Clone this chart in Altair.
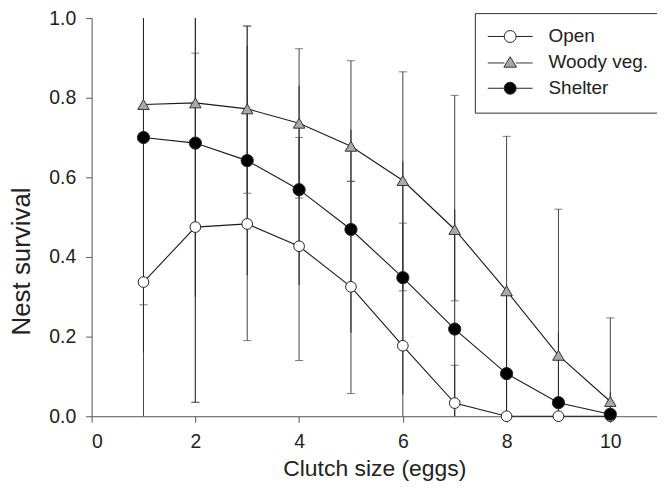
import altair as alt
import pandas as pd

# ---- data ----
clutch = [1, 2, 3, 4, 5, 6, 7, 8, 9, 10]
series_names = ["Open", "Woody veg.", "Shelter"]

open_surv = [0.337, 0.475, 0.483, 0.427, 0.325, 0.177, 0.033, 0.0, 0.0, 0.0]
woody_surv = [0.783, 0.787, 0.772, 0.736, 0.678, 0.592, 0.469, 0.315, 0.153, 0.037]
shelter_surv = [0.700, 0.686, 0.642, 0.569, 0.469, 0.348, 0.219, 0.107, 0.034, 0.005]

open_lo = [0.0, 0.035, 0.19, 0.14, 0.057, 0.0, 0.0, 0.0, 0.0, 0.0]
open_hi = [1.0, 0.912, 0.98, 0.70, 0.59, 0.485, 0.128, 0.0, 0.0, 0.0]
woody_lo = [0.28, 0.035, 0.56, 0.548, 0.59, 0.315, 0.29, 0.0, 0.0, 0.0]
woody_hi = [1.0, 1.0, 0.98, 0.923, 0.893, 0.865, 0.806, 0.703, 0.52, 0.247]
shelter_lo = [0.16, 0.30, 0.354, 0.33, 0.21, 0.055, 0.0, 0.0, 0.0, 0.0]
shelter_hi = [1.0, 1.0, 0.93, 0.83, 0.72, 0.64, 0.52, 0.33, 0.21, 0.06]

x_ticks = [0, 2, 4, 6, 8, 10]
y_ticks = [0.0, 0.2, 0.4, 0.6, 0.8, 1.0]

fills = ["white", "#a9a9a9", "black"]
strokes = ["#222222", "#333333", "#222222"]
shapes = ["circle", "triangle-up", "circle"]
sizes = [115, 150, 125]

rows = []
caps = []
for name, surv, lo, hi, capped in [
    ("Open", open_surv, open_lo, open_hi, True),
    ("Woody veg.", woody_surv, woody_lo, woody_hi, True),
    ("Shelter", shelter_surv, shelter_lo, shelter_hi, False),
]:
    for c, s, l, h in zip(clutch, surv, lo, hi):
        rows.append(dict(Clutch=c, Series=name, Survival=s, Lower=l, Upper=h,
                         Capped=capped))
        if capped:
            for v in (l, h):
                if 0 < v < 1:
                    caps.append(dict(Clutch=c, Series=name, Bound=v))

df = pd.DataFrame(rows)
caps_df = pd.DataFrame(caps)

FONT = "Liberation Sans"

xscale = alt.Scale(domain=[0, 10.9], nice=False, zero=False)
yscale = alt.Scale(domain=[0, 1], nice=False)

X = alt.X("Clutch:Q", scale=xscale,
          axis=alt.Axis(values=x_ticks, format="d", title="Clutch size (eggs)",
                        titleFontSize=23, labelPadding=10, titlePadding=7))
Y = alt.Y("Survival:Q", scale=yscale,
          axis=alt.Axis(values=y_ticks, format=".1f", title="Nest survival",
                        titleFontSize=26, titleX=-70, titleY=244,
                        titleBaseline="middle", titleAlign="center", titleAngle=270,
                        labelPadding=10))

bars_capped = alt.Chart(df).transform_filter("datum.Capped").mark_rule(
    color="#444444", strokeWidth=1
).encode(
    x=alt.X("Clutch:Q", scale=xscale),
    y=alt.Y("Lower:Q", scale=yscale),
    y2="Upper:Q",
)

bars_shelter = alt.Chart(df).transform_filter("!datum.Capped").mark_rule(
    color="#262626", strokeWidth=1
).encode(
    x=alt.X("Clutch:Q", scale=xscale),
    y=alt.Y("Lower:Q", scale=yscale),
    y2="Upper:Q",
)

cap_marks = alt.Chart(caps_df).mark_tick(
    orient="horizontal", size=8, thickness=1, color="#444444"
).encode(
    x=alt.X("Clutch:Q", scale=xscale),
    y=alt.Y("Bound:Q", scale=yscale),
)

lines = alt.Chart(df).mark_line(color="#1a1a1a", strokeWidth=1.1).encode(
    x=X, y=Y, detail="Series:N"
)

points = alt.Chart(df).mark_point(filled=False, strokeWidth=1, opacity=1).encode(
    x=X,
    y=Y,
    fill=alt.Fill("Series:N", scale=alt.Scale(domain=series_names, range=fills),
                  legend=None),
    shape=alt.Shape("Series:N", scale=alt.Scale(domain=series_names, range=shapes),
                    legend=None),
    size=alt.Size("Series:N", scale=alt.Scale(domain=series_names, range=sizes),
                  legend=None),
    stroke=alt.Stroke("Series:N", scale=alt.Scale(domain=series_names, range=strokes),
                      legend=None),
)

# legend symbols: line segment with marker in the middle
circ = "M-3.75,0H-1M-1,0A1,1 0 1,1 1,0A1,1 0 1,1 -1,0ZM1,0H3.75"
tri = "M-3.75,0.1H-0.95M0.95,0.1H3.75M0,-0.95L1.05,0.8L-1.05,0.8Z"
legend_paths = [circ, tri, circ]

legend = alt.Legend(
    title=None,
    orient="none",
    legendX=385,
    legendY=-5,
    strokeColor="#333",
    fillColor="white",
    padding=14,
    labelFontSize=19,
    labelFont=FONT,
    labelColor="#222",
    labelOffset=29,
    symbolOffset=12,
    symbolSize=144,
    symbolOpacity=1,
    symbolStrokeWidth=1,
    rowPadding=6,
)

# legend-only layer: no rows pass the filter, scales have explicit domains
legend_layer = alt.Chart(df).transform_filter("datum.Clutch < 0").mark_point(
    size=144, strokeWidth=1, filled=False
).encode(
    x=X,
    y=Y,
    fill=alt.Fill("Series:N", scale=alt.Scale(domain=series_names, range=fills),
                  legend=legend),
    shape=alt.Shape("Series:N", scale=alt.Scale(domain=series_names, range=legend_paths),
                    legend=legend),
    stroke=alt.Stroke("Series:N", scale=alt.Scale(domain=series_names, range=strokes),
                      legend=legend),
)

chart = alt.layer(bars_capped, bars_shelter, cap_marks, lines, points, legend_layer).resolve_scale(
    shape="independent", fill="independent", size="independent", stroke="independent"
).properties(
    width=568,
    height=400,
    autosize=alt.AutoSizeParams(type="none"),
    padding={"left": 84, "top": 9, "right": 0, "bottom": 78},
).configure_view(
    stroke=None
).configure_axis(
    grid=False,
    domainColor="#555",
    tickColor="#555",
    tickSize=6,
    labelFont=FONT,
    labelFontSize=19.5,
    labelColor="#222",
    titleFont=FONT,
    titleFontWeight="normal",
    titleColor="#222",
)

chart.save("out.html", embed_options={"renderer": "svg", "actions": False})
